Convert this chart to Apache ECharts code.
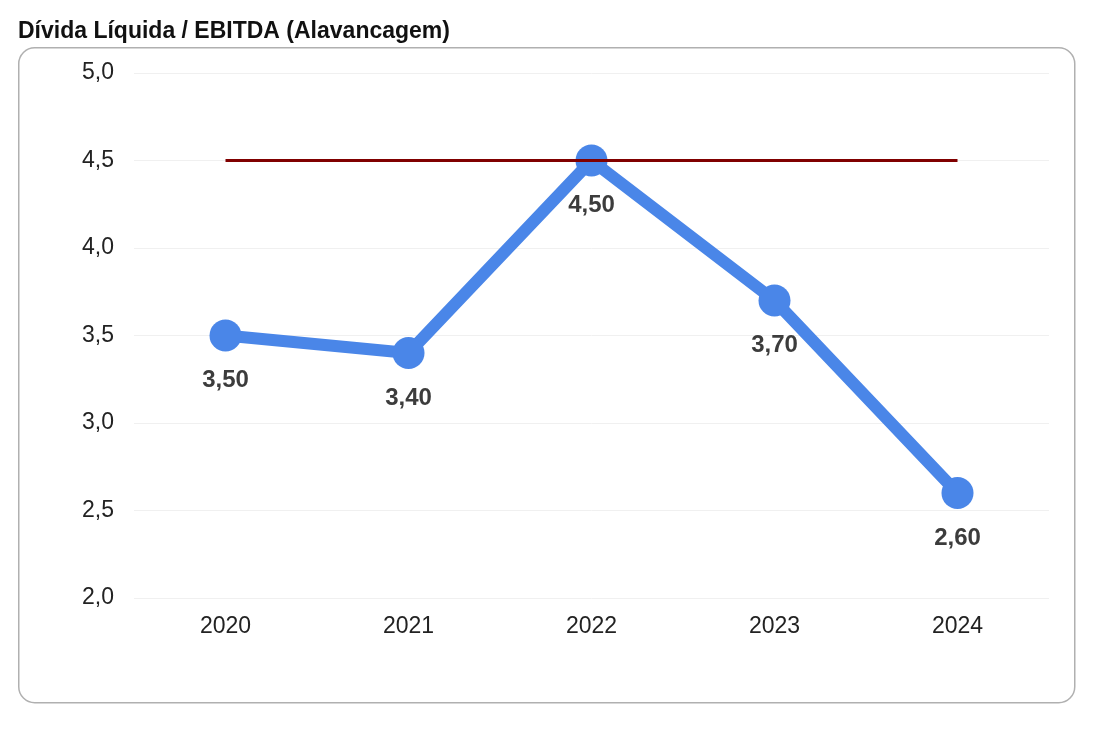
<!DOCTYPE html>
<html><head><meta charset="utf-8">
<script src="https://cdn.jsdelivr.net/npm/echarts@6/dist/echarts.min.js"></script>
<style>html,body{margin:0;padding:0;background:#fff}#c{width:1100px;height:730px}</style>
</head><body><div id="c"></div>
<script>
const title = 'Dívida Líquida / EBITDA (Alavancagem)';
const categories = ['2020','2021','2022','2023','2024'];
const leverage = [3.5, 3.4, 4.5, 3.7, 2.6];
const limitLine = [4.5, 4.5, 4.5, 4.5, 4.5];
const yTicks = [2.0, 2.5, 3.0, 3.5, 4.0, 4.5, 5.0];

const fmt = (v, d) => v.toFixed(d).replace('.', ',');
const chart = echarts.init(document.getElementById('c'));
chart.setOption({
  animation: false,
  textStyle: { fontFamily: 'Liberation Sans, Arial, sans-serif' },
  title: {
    text: title, left: 13, top: 15,
    textStyle: { fontSize: 23, fontWeight: 'bold', color: '#111', fontFamily: 'Liberation Sans, Arial, sans-serif' }
  },
  graphic: [{
    type: 'rect', left: 18, top: 47, z: -1,
    shape: { width: 1056, height: 655, r: 16 },
    style: { fill: '#fff', stroke: '#b0b0b0', lineWidth: 1.5 }
  }],
  grid: { left: 134, right: 51, top: 73, bottom: 132, containLabel: false },
  xAxis: {
    type: 'category', data: categories, boundaryGap: true,
    axisLine: { show: false }, axisTick: { show: false },
    axisLabel: { fontSize: 23, color: '#222', margin: 17 }
  },
  yAxis: {
    type: 'value', min: yTicks[0], max: yTicks[yTicks.length - 1], interval: 0.5,
    axisLine: { show: false }, axisTick: { show: false },
    axisLabel: { fontSize: 23, color: '#222', margin: 20, formatter: v => fmt(v, 1) },
    splitLine: { lineStyle: { color: '#f0f0f0', width: 1 } }
  },
  series: [{
    type: 'line', data: leverage, z: 2,
    lineStyle: { color: '#4a86e8', width: 12 },
    itemStyle: { color: '#4a86e8' },
    symbol: 'circle', symbolSize: 32,
    label: {
      show: true, position: 'bottom', distance: 17,
      fontSize: 24, fontWeight: 'bold', color: '#3c3c3c',
      formatter: p => fmt(p.value, 2)
    }
  }, {
    type: 'line', data: limitLine, z: 3,
    lineStyle: { color: '#800000', width: 3 },
    symbol: 'none'
  }]
});
</script></body></html>
